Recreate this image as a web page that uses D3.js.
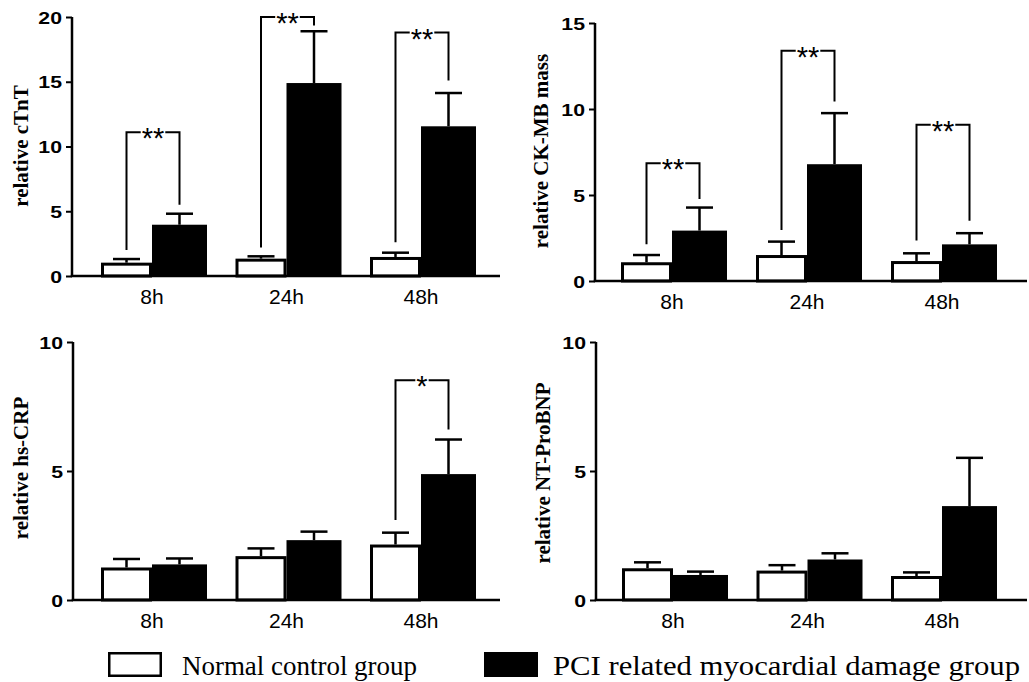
<!DOCTYPE html>
<html><head><meta charset="utf-8">
<script src="https://cdn.jsdelivr.net/npm/d3@7"></script>
<style>
body{margin:0;background:#fff;}
svg{display:block;}
</style></head>
<body>
<svg id="chart" width="1029" height="682"></svg>
<script>
// ---- data ----
const times = ["8h", "24h", "48h"];
const seriesNames = ["Normal control group", "PCI related myocardial damage group"];

const cTnT_normal = [1.03, 1.34, 1.47];
const cTnT_normalErr = [1.31, 1.52, 1.80];
const cTnT_pci = [3.96, 14.9, 11.56];
const cTnT_pciErr = [4.81, 18.9, 14.13];
const cTnT_ticks = [0, 5, 10, 15, 20];
const cTnT_sig = [
  {time: "8h", top: 11.1, left: 2.0, right: 5.5, label: "**"},
  {time: "24h", top: 20.0, left: 2.2, right: 19.35, label: "**"},
  {time: "48h", top: 18.8, left: 2.6, right: 15.1, label: "**"}
];

const ckmb_normal = [1.09, 1.51, 1.16];
const ckmb_normalErr = [1.51, 2.29, 1.61];
const ckmb_pci = [2.93, 6.79, 2.13];
const ckmb_pciErr = [4.27, 9.76, 2.78];
const ckmb_ticks = [0, 5, 10, 15];
const ckmb_sig = [
  {time: "8h", top: 6.85, left: 2.13, right: 4.77, label: "**"},
  {time: "24h", top: 13.39, left: 2.97, right: 10.44, label: "**"},
  {time: "48h", top: 9.08, left: 2.35, right: 3.51, label: "**"}
];

const crp_normal = [1.26, 1.70, 2.15];
const crp_normalErr = [1.59, 2.0, 2.61];
const crp_pci = [1.38, 2.32, 4.88];
const crp_pciErr = [1.61, 2.65, 6.22];
const crp_ticks = [0, 5, 10];
const crp_sig = [
  {time: "48h", top: 8.52, left: 3.1, right: 6.61, label: "*"}
];

const bnp_normal = [1.23, 1.14, 0.93];
const bnp_normalErr = [1.46, 1.35, 1.07];
const bnp_pci = [0.97, 1.57, 3.64];
const bnp_pciErr = [1.10, 1.81, 5.51];
const bnp_ticks = [0, 5, 10];
const bnp_sig = [];

// ---- layout ----
const panels = [
  {title: "relative cTnT", normal: cTnT_normal, normalErr: cTnT_normalErr, pci: cTnT_pci, pciErr: cTnT_pciErr,
   ticks: cTnT_ticks, sig: cTnT_sig, max: 20,
   axisX: 72, yTop: 17, yBot: 276, xEnd: 500, c0: 152, c1: 421, titleX: 28, titleY: 146},
  {title: "relative CK-MB mass", normal: ckmb_normal, normalErr: ckmb_normalErr, pci: ckmb_pci, pciErr: ckmb_pciErr,
   ticks: ckmb_ticks, sig: ckmb_sig, max: 15,
   axisX: 595, yTop: 23, yBot: 281, xEnd: 1027, c0: 672, c1: 942, titleX: 548, titleY: 151},
  {title: "relative hs-CRP", normal: crp_normal, normalErr: crp_normalErr, pci: crp_pci, pciErr: crp_pciErr,
   ticks: crp_ticks, sig: crp_sig, max: 10,
   axisX: 73, yTop: 342, yBot: 600, xEnd: 500, c0: 152, c1: 421, titleX: 28, titleY: 468},
  {title: "relative NT-ProBNP", normal: bnp_normal, normalErr: bnp_normalErr, pci: bnp_pci, pciErr: bnp_pciErr,
   ticks: bnp_ticks, sig: bnp_sig, max: 10,
   axisX: 596, yTop: 342, yBot: 600, xEnd: 1027, c0: 673, c1: 942, titleX: 550, titleY: 473}
];

const svg = d3.select("#chart");
const wW = 51, bW = 55, capW = 27;
const SANS = "'Liberation Sans', Arial, sans-serif";
const SERIF = "'Liberation Serif', 'Times New Roman', serif";

panels.forEach(p => {
  const g = svg.append("g");
  const y = d3.scaleLinear().domain([0, p.max]).range([p.yBot, p.yTop]);
  const x = d3.scalePoint().domain(times).range([p.c0, p.c1]);

  times.forEach((t, i) => {
    const c = x(t);
    // error bars
    g.append("line").attr("x1", c - wW / 2).attr("x2", c - wW / 2)
      .attr("y1", y(p.normal[i])).attr("y2", y(p.normalErr[i]))
      .attr("stroke", "#000").attr("stroke-width", 2.5);
    g.append("line").attr("x1", c - wW / 2 - capW / 2).attr("x2", c - wW / 2 + capW / 2)
      .attr("y1", y(p.normalErr[i])).attr("y2", y(p.normalErr[i]))
      .attr("stroke", "#000").attr("stroke-width", 2.5);
    g.append("line").attr("x1", c + bW / 2).attr("x2", c + bW / 2)
      .attr("y1", y(p.pci[i])).attr("y2", y(p.pciErr[i]))
      .attr("stroke", "#000").attr("stroke-width", 2.5);
    g.append("line").attr("x1", c + bW / 2 - capW / 2).attr("x2", c + bW / 2 + capW / 2)
      .attr("y1", y(p.pciErr[i])).attr("y2", y(p.pciErr[i]))
      .attr("stroke", "#000").attr("stroke-width", 2.5);

    g.append("rect").attr("x", c - wW + 1.5).attr("width", wW - 3)
      .attr("y", y(p.normal[i]) + 1.5).attr("height", y(0) - y(p.normal[i]) - 1.5)
      .attr("fill", "#fff").attr("stroke", "#000").attr("stroke-width", 3);
    g.append("rect").attr("x", c).attr("width", bW)
      .attr("y", y(p.pci[i])).attr("height", y(0) - y(p.pci[i]))
      .attr("fill", "#000");
  });

  // significance brackets
  p.sig.forEach(s => {
    const c = x(s.time);
    const xl = c - wW / 2, xr = c + bW / 2;
    const path = d3.path();
    path.moveTo(xl, y(s.left));
    path.lineTo(xl, y(s.top));
    path.lineTo(xr, y(s.top));
    path.lineTo(xr, y(s.right));
    g.append("path").attr("d", path.toString()).attr("fill", "none")
      .attr("stroke", "#000").attr("stroke-width", 2);
    const mx = (xl + xr) / 2;
    const txt = g.append("text").attr("x", mx).attr("y", y(s.top) + 16)
      .attr("text-anchor", "middle").attr("font-family", SANS)
      .attr("font-size", 29).attr("fill", "#000").text(s.label);
    const len = txt.node().getComputedTextLength();
    g.insert("rect", () => txt.node()).attr("x", mx - len / 2 - 1).attr("width", len + 2)
      .attr("y", y(s.top) - 3).attr("height", 6).attr("fill", "#fff");
  });

  // y axis
  const yAxis = d3.axisLeft(y).tickValues(p.ticks).tickSize(6).tickPadding(0).tickFormat(d3.format("d"));
  const ya = g.append("g").attr("transform", `translate(${p.axisX},0)`).call(yAxis);
  ya.select(".domain").attr("stroke", "#000").attr("stroke-width", 2.5)
    .attr("d", `M0,${p.yTop}V${p.yBot}`);
  ya.selectAll(".tick line").attr("stroke", "#000").attr("stroke-width", 2);
  ya.selectAll(".tick text")
    .attr("font-family", SANS).attr("font-weight", "bold").attr("font-size", 17)
    .attr("fill", "#000").attr("x", -10 / 1.25).attr("dy", "0.36em")
    .attr("transform", "scale(1.25,1)");

  // x axis line
  g.append("line").attr("x1", p.axisX - 1.25).attr("x2", p.xEnd)
    .attr("y1", p.yBot).attr("y2", p.yBot)
    .attr("stroke", "#000").attr("stroke-width", 2.5);
  // x labels
  times.forEach(t => {
    g.append("text").attr("x", x(t)).attr("y", p.yBot + 28)
      .attr("text-anchor", "middle").attr("font-family", SANS)
      .attr("font-size", 21).attr("fill", "#000").text(t);
  });

  // y title
  g.append("text").attr("transform", `translate(${p.titleX},${p.titleY}) rotate(-90)`)
    .attr("text-anchor", "middle").attr("font-family", SERIF).attr("font-weight", "bold")
    .attr("font-size", 21).attr("fill", "#000").text(p.title);
});

// legend
const legend = svg.append("g");
const legendX = [108, 484];
const legendLen = [235, 467];
seriesNames.forEach((name, i) => {
  legend.append("rect").attr("x", legendX[i] + 1.25).attr("y", 653.25)
    .attr("width", 51.5).attr("height", 22.5)
    .attr("fill", i === 0 ? "#fff" : "#000").attr("stroke", "#000").attr("stroke-width", 2.5);
  legend.append("text").attr("x", legendX[i] + (i === 0 ? 74 : 69)).attr("y", 675)
    .attr("font-family", SERIF).attr("font-size", 27).attr("fill", "#000")
    .attr("textLength", legendLen[i]).attr("lengthAdjust", "spacingAndGlyphs")
    .text(name);
});
</script>
</body></html>
